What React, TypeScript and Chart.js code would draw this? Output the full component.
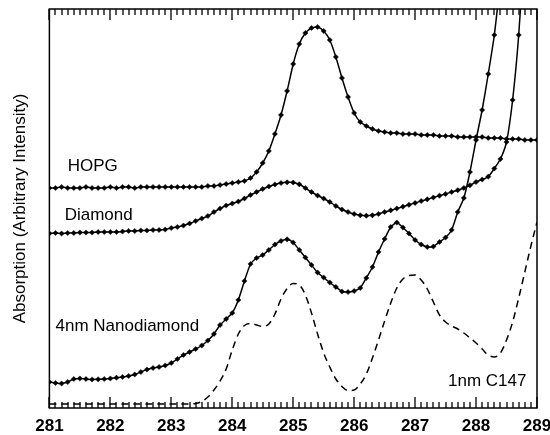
import React, { useEffect, useRef } from "react";
import { Chart, registerables } from "chart.js";

Chart.register(...registerables);

// Photon energy (eV), sampled every 0.1 eV
const energies = [
  281.0, 281.1, 281.2, 281.3, 281.4, 281.5, 281.6, 281.7, 281.8, 281.9,
  282.0, 282.1, 282.2, 282.3, 282.4, 282.5, 282.6, 282.7, 282.8, 282.9,
  283.0, 283.1, 283.2, 283.3, 283.4, 283.5, 283.6, 283.7, 283.8, 283.9,
  284.0, 284.1, 284.2, 284.3, 284.4, 284.5, 284.6, 284.7, 284.8, 284.9,
  285.0, 285.1, 285.2, 285.3, 285.4, 285.5, 285.6, 285.7, 285.8, 285.9,
  286.0, 286.1, 286.2, 286.3, 286.4, 286.5, 286.6, 286.7, 286.8, 286.9,
  287.0, 287.1, 287.2, 287.3, 287.4, 287.5, 287.6, 287.7, 287.8, 287.9,
  288.0, 288.1, 288.2, 288.3, 288.4, 288.5, 288.6, 288.7, 288.8, 288.9,
  289.0,
];

// Absorption (arbitrary intensity, offset curves)
const hopg = [
  220, 220, 221, 220, 220, 220, 221, 220, 220, 220,
  221, 220, 221, 221, 220, 221, 221, 221, 221, 221,
  221, 221, 221, 221, 221, 221, 222, 222, 223, 224,
  225, 226, 227, 230, 236, 245, 257, 274, 293, 317,
  344, 364, 375, 380, 381, 377, 368, 351, 330, 311,
  295, 286, 282, 279, 277, 276, 275, 275, 274, 274,
  274, 273, 273, 273, 272, 272, 272, 271, 271, 271,
  271, 271, 270, 270, 270, 269, 269, 269, 268, 268,
  268,
];

const diamond = [
  174.5, 175, 174.5, 175, 175, 175.5, 175.5, 175.5, 176, 176,
  176, 176, 176.5, 177, 177, 177.5, 177.5, 178, 178, 178.5,
  180, 181, 182.5, 184.5, 187, 189.5, 192, 196, 199.5, 202.5,
  204.5, 206.5, 209.5, 213, 216, 219, 221.5, 223.5, 225, 225.7,
  225.5, 223.7, 220, 216, 212.5, 209.5, 206, 202, 198.5, 196,
  194, 192.7, 192.3, 192.7, 194, 196, 197.7, 199.5, 201.3, 203.2,
  205, 207, 208.7, 210.5, 212.3, 214, 216, 217.8, 220, 222.7,
  226, 228.5, 231.3, 239.5, 249, 266, 308, 373, 468, 588,
  708,
];

const nanodiamond4nm = [
  26, 25, 24.5, 26, 29, 29.5, 29, 28.5, 28.7, 29,
  29.5, 30.3, 31, 32, 33.5, 36, 38.5, 40, 41, 42.5,
  45, 49, 53, 56, 59, 62.5, 67.5, 74, 83, 89,
  95, 108, 127, 144, 150, 153, 158, 163.5, 167, 168.7,
  165.5, 158, 150.5, 143, 135.5, 130.5, 125.5, 121, 116.5, 116,
  117, 120, 130, 141, 156, 169, 181, 185.5, 180.5, 174.5,
  168, 163.5, 161, 161.5, 166, 170.5, 178, 196, 210, 236,
  268, 298, 334, 373, 428, 488, 558, 638, 728, 828,
  938,
];

const c147 = [
  4, 4, 4, 4, 4, 4, 4, 4, 4, 4,
  4, 4, 4, 4, 4, 4, 4, 4, 4, 4,
  4, 4, 4, 4, 4.5, 6.5, 11, 18, 27, 39,
  58, 74, 82.5, 84.5, 83, 81.5, 84, 94, 109, 119.5,
  124.5, 123, 113, 95, 74, 55, 41, 29, 21.5, 17.5,
  18, 24, 34, 50, 68, 87, 105, 120, 129, 132.5,
  133, 128, 119, 106, 93, 86, 82, 79, 75, 70,
  65, 59, 53, 51, 55, 68, 86, 110, 136, 162,
  186,
];

// In-plot curve labels
const labelTexts = ["HOPG", "Diamond", "4nm Nanodiamond", "1nm C147"];
const labelEnergy = [281.3, 281.25, 281.1, 287.54];
const labelIntensity = [242, 193, 82, 27];

const xMin = 281;
const xMax = 289;
const yTitle = "Absorption (Arbitrary Intensity)";

const FONT = "'Liberation Sans', Arial, Helvetica, sans-serif";

const framePlugin = {
  id: "frameTicks",
  afterDatasetsDraw(chart: any) {
    const { ctx, chartArea: a, scales } = chart;
    const x = scales.x;
    const y = scales.y;
    ctx.save();
    ctx.strokeStyle = "#000";
    ctx.lineWidth = 1.5;
    ctx.strokeRect(a.left, a.top, a.right - a.left, a.bottom - a.top);
    ctx.lineWidth = 1.3;
    const n = Math.round((xMax - xMin) * 10);
    for (let i = 0; i <= n; i++) {
      const px = Math.round(x.getPixelForValue(xMin + i / 10));
      const len = i % 10 === 0 ? 11 : 6;
      ctx.beginPath();
      ctx.moveTo(px, a.top);
      ctx.lineTo(px, a.top + len);
      ctx.moveTo(px, a.bottom);
      ctx.lineTo(px, a.bottom - len);
      ctx.stroke();
    }
    ctx.fillStyle = "#000";
    ctx.font = `17px ${FONT}`;
    ctx.textAlign = "left";
    ctx.textBaseline = "middle";
    labelTexts.forEach((t, i) => {
      ctx.fillText(t, x.getPixelForValue(labelEnergy[i]), y.getPixelForValue(labelIntensity[i]));
    });
    ctx.restore();
  },
};

function pts(vals: number[]) {
  return energies.map((e, i) => ({ x: e, y: vals[i] }));
}

export default function App() {
  const ref = useRef<HTMLCanvasElement>(null);
  useEffect(() => {
    if (!ref.current) return;
    Chart.defaults.font.family = FONT;
    const markerStyle = {
      borderColor: "#000",
      backgroundColor: "#000",
      borderWidth: 1.5,
      pointStyle: "rectRot" as const,
      pointRadius: 2.6,
      pointBackgroundColor: "#000",
      pointBorderColor: "#000",
      pointBorderWidth: 0.5,
      tension: 0.2,
    };
    const chart = new Chart(ref.current, {
      type: "line",
      data: {
        datasets: [
          { label: "HOPG", data: pts(hopg), ...markerStyle },
          { label: "Diamond", data: pts(diamond), ...markerStyle },
          { label: "4nm Nanodiamond", data: pts(nanodiamond4nm), ...markerStyle },
          {
            label: "1nm C147",
            data: pts(c147),
            borderColor: "#000",
            borderWidth: 1.5,
            borderDash: [7, 5],
            pointRadius: 0,
            cubicInterpolationMode: "monotone",
          },
        ],
      },
      options: {
        animation: false,
        responsive: false,
        layout: { padding: { top: 9, left: 0, right: 13, bottom: 0 } },
        plugins: { legend: { display: false }, tooltip: { enabled: false } },
        scales: {
          x: {
            type: "linear",
            min: xMin,
            max: xMax,
            grid: { display: false, drawTicks: false },
            border: { display: false },
            ticks: {
              stepSize: 1,
              autoSkip: false,
              maxRotation: 0,
              padding: 10,
              color: "#000",
              font: { family: FONT, size: 17, weight: "bold", lineHeight: 1 },
            },
            afterFit(scale: any) {
              scale.height = 27;
              scale.paddingRight = 0;
              scale.paddingLeft = 0;
            },
          },
          y: {
            min: 0,
            max: 399,
            grid: { display: false, drawTicks: false },
            border: { display: false },
            ticks: { display: false },
            title: {
              display: true,
              text: yTitle,
              color: "#000",
              font: { family: FONT, size: 17, lineHeight: 1.2 },
              padding: { top: 10, bottom: 19 },
            },
          },
        },
      },
      plugins: [framePlugin],
    });
    return () => chart.destroy();
  }, []);
  return (
    <div style={{ position: "fixed", left: 0, top: 0, width: 550, height: 435, background: "#fff" }}>
      <canvas ref={ref} width={550} height={435} />
    </div>
  );
}
